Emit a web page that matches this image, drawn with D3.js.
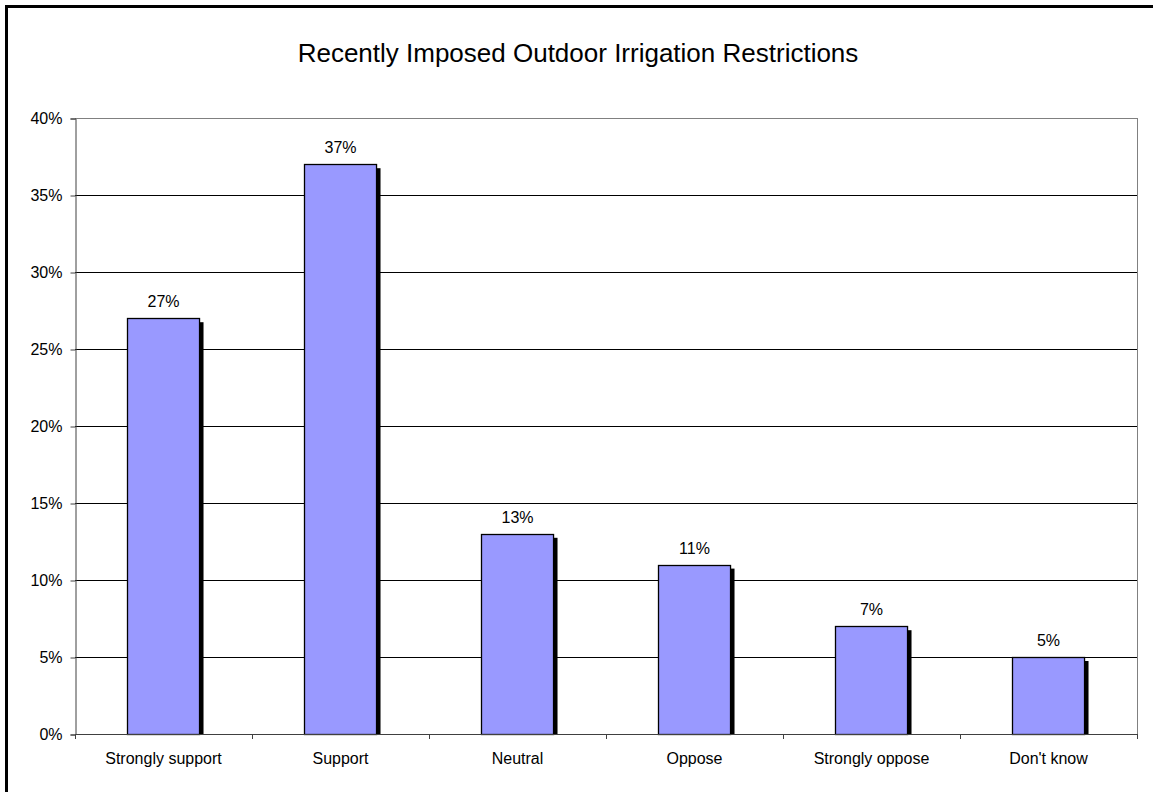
<!DOCTYPE html>
<html>
<head>
<meta charset="utf-8">
<script src="https://cdn.jsdelivr.net/npm/d3@7"></script>
<style>
  html, body { margin: 0; padding: 0; background: #fff; }
  svg { display: block; font-family: "Liberation Sans", Arial, sans-serif; }
</style>
</head>
<body>
<svg id="chart" width="1153" height="792"></svg>
<script>
const categories = ["Strongly support", "Support", "Neutral", "Oppose", "Strongly oppose", "Don't know"];
const values = [0.27, 0.37, 0.13, 0.11, 0.07, 0.05];
const yTicks = [0, 0.05, 0.10, 0.15, 0.20, 0.25, 0.30, 0.35, 0.40];
const title = "Recently Imposed Outdoor Irrigation Restrictions";

const svg = d3.select("#chart");
const W = 1153, H = 792;
const plot = { left: 75, right: 1137, top: 118, bottom: 734 };

// outer frame (top and left edges visible)
svg.append("rect").attr("x", 0).attr("y", 0).attr("width", W).attr("height", H).attr("fill", "#fff");
svg.append("path")
  .attr("d", `M6.5,${H + 5} V6.5 H${W + 5}`)
  .attr("fill", "none").attr("stroke", "#000").attr("stroke-width", 3);

const y = d3.scaleLinear().domain([0, 0.40]).range([plot.bottom, plot.top]);
const pad = 0.593;
const x = d3.scaleBand().domain(categories).range([plot.left, plot.right])
  .paddingInner(pad).paddingOuter(pad / 2);
const step = x.step();

// horizontal gridlines
svg.append("g").selectAll("line").data(yTicks.filter(t => t > 0)).join("line")
  .attr("x1", plot.left).attr("x2", plot.right)
  .attr("y1", d => Math.round(y(d)) + 0.5).attr("y2", d => Math.round(y(d)) + 0.5)
  .attr("stroke", d => d === 0.40 ? "#808080" : "#000").attr("stroke-width", 1);

// right edge of plot area
svg.append("line")
  .attr("x1", plot.right + 0.5).attr("x2", plot.right + 0.5)
  .attr("y1", plot.top).attr("y2", plot.bottom)
  .attr("stroke", "#808080");

// y axis
const yAxis = d3.axisLeft(y).tickValues(yTicks).tickSize(5).tickPadding(8)
  .tickFormat(d3.format(".0%"));
const gy = svg.append("g").attr("transform", `translate(${plot.left + 0.5},0.5)`).call(yAxis);
gy.select(".domain").attr("stroke", "#404040");
gy.selectAll(".tick line").attr("stroke", "#404040");
gy.selectAll(".tick text").attr("font-size", 16).attr("fill", "#000")
  .attr("font-family", "'Liberation Sans', Arial, sans-serif");

// bars with drop shadow
const shadow = 4;
const bars = svg.append("g");
bars.selectAll("rect.shadow").data(values).join("rect").attr("class", "shadow")
  .attr("x", (d, i) => x(categories[i]) + shadow)
  .attr("y", d => y(d) + shadow)
  .attr("width", x.bandwidth())
  .attr("height", d => plot.bottom - y(d) - shadow)
  .attr("fill", "#000");
bars.selectAll("rect.bar").data(values).join("rect").attr("class", "bar")
  .attr("x", (d, i) => Math.round(x(categories[i])) + 0.5)
  .attr("y", d => Math.round(y(d)) + 0.5)
  .attr("width", x.bandwidth())
  .attr("height", d => plot.bottom - Math.round(y(d)))
  .attr("fill", "#9999FF").attr("stroke", "#000").attr("stroke-width", 1.3);

// value labels
svg.append("g").selectAll("text").data(values).join("text")
  .attr("x", (d, i) => x(categories[i]) + x.bandwidth() / 2)
  .attr("y", d => y(d) - 11)
  .attr("text-anchor", "middle").attr("font-size", 16).attr("fill", "#000")
  .text(d => d3.format(".0%")(d));

// x axis line and category boundary ticks
svg.append("line")
  .attr("x1", plot.left).attr("x2", plot.right + 1)
  .attr("y1", plot.bottom + 0.5).attr("y2", plot.bottom + 0.5)
  .attr("stroke", "#404040");
svg.append("g").selectAll("line").data(d3.range(categories.length + 1)).join("line")
  .attr("x1", i => Math.round(plot.left + i * step) + 0.5)
  .attr("x2", i => Math.round(plot.left + i * step) + 0.5)
  .attr("y1", plot.bottom).attr("y2", plot.bottom + 5)
  .attr("stroke", "#404040");
svg.append("g").selectAll("text").data(categories).join("text")
  .attr("x", d => x(d) + x.bandwidth() / 2)
  .attr("y", plot.bottom + 30)
  .attr("text-anchor", "middle").attr("font-size", 16).attr("fill", "#000")
  .text(d => d);

// title
svg.append("text")
  .attr("x", 578).attr("y", 62)
  .attr("text-anchor", "middle").attr("font-size", 26).attr("fill", "#000")
  .text(title);
</script>
</body>
</html>
